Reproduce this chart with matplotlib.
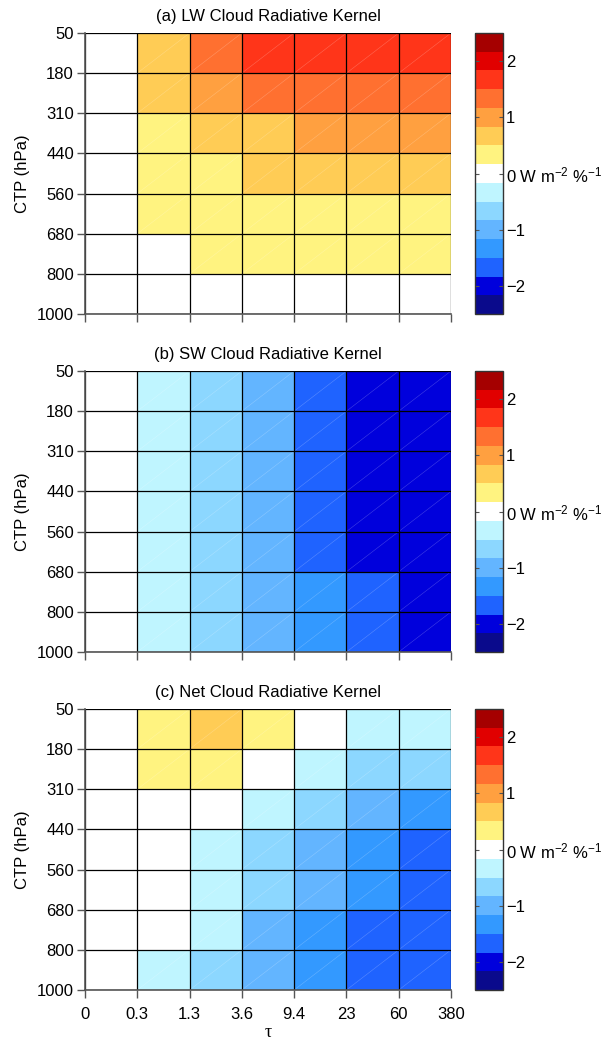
import numpy as np
import matplotlib
matplotlib.use("Agg")
from matplotlib import pyplot as plt
from matplotlib.colors import ListedColormap, BoundaryNorm
from matplotlib.collections import LineCollection

plt.rcParams['font.family'] = ['Liberation Sans', 'DejaVu Sans']
plt.rcParams['mathtext.fontset'] = 'custom'
plt.rcParams['mathtext.rm'] = 'Liberation Sans'
plt.rcParams['mathtext.it'] = 'Liberation Sans:italic'
plt.rcParams['mathtext.sf'] = 'Liberation Sans'

tau_labels = ["0", "0.3", "1.3", "3.6", "9.4", "23", "60", "380"]
ctp_labels = ["50", "180", "310", "440", "560", "680", "800", "1000"]

# rows: CTP 50 -> 1000 hPa, columns: tau 0 -> 380
lw_kernel = [
    [0.00, 0.72, 1.30, 1.68, 1.72, 1.75, 1.74],
    [0.00, 0.62, 0.98, 1.33, 1.38, 1.36, 1.35],
    [0.00, 0.38, 0.62, 0.78, 0.95, 1.02, 1.05],
    [0.00, 0.30, 0.45, 0.62, 0.70, 0.72, 0.73],
    [0.00, 0.22, 0.30, 0.38, 0.42, 0.44, 0.45],
    [0.00, 0.10, 0.22, 0.28, 0.31, 0.33, 0.34],
    [0.00, 0.02, 0.06, 0.09, 0.11, 0.12, 0.13],
]
sw_kernel = [
    [0.00, -0.35, -0.68, -1.00, -1.62, -1.95, -2.05],
    [0.00, -0.36, -0.70, -1.02, -1.64, -1.97, -2.06],
    [0.00, -0.37, -0.71, -1.03, -1.66, -1.98, -2.08],
    [0.00, -0.38, -0.72, -1.04, -1.67, -2.00, -2.09],
    [0.00, -0.38, -0.72, -1.03, -1.62, -1.92, -2.04],
    [0.00, -0.37, -0.70, -0.98, -1.40, -1.70, -1.95],
    [0.00, -0.36, -0.68, -0.95, -1.30, -1.60, -1.88],
]
net_kernel = [
    [0.00, 0.30, 0.60, 0.25, 0.05, -0.25, -0.30],
    [0.00, 0.26, 0.28, 0.02, -0.30, -0.60, -0.70],
    [0.00, 0.01, -0.08, -0.40, -0.75, -1.00, -1.28],
    [0.00, -0.08, -0.35, -0.72, -1.05, -1.30, -1.55],
    [0.00, -0.10, -0.40, -0.75, -1.02, -1.32, -1.58],
    [0.00, -0.12, -0.42, -0.90, -1.25, -1.52, -1.60],
    [0.00, -0.25, -0.55, -0.90, -1.25, -1.53, -1.58],
]
titles = ["(a) LW Cloud Radiative Kernel",
          "(b) SW Cloud Radiative Kernel",
          "(c) Net Cloud Radiative Kernel"]

level_colors = ["#0a0a8c", "#0000dc", "#1f63ff", "#3399ff", "#63b5ff",
                "#8cd7ff", "#bff5ff", "#ffffff", "#fff380", "#ffcc55",
                "#ffa040", "#ff7030", "#ff3519", "#e10000", "#a50000"]
bounds = np.linspace(-2.5, 2.5, 16)
cmap = ListedColormap(level_colors)
norm = BoundaryNorm(bounds, cmap.N)

W, H = 609, 1040
fig = plt.figure(figsize=(W / 100, H / 100), dpi=100)

panel_tops = [33, 371, 709]
panel_h = 281
axis_gray = "#555555"
fs = 12

for k, data in enumerate([lw_kernel, sw_kernel, net_kernel]):
    z = np.array(data)
    ny, nx = z.shape
    top = panel_tops[k]
    ax = fig.add_axes([85 / W, 1 - (top + panel_h) / H, 366 / W, panel_h / H])
    cax = fig.add_axes([475 / W, 1 - (top + panel_h) / H, 28 / W, panel_h / H])

    mesh = ax.pcolormesh(np.arange(nx + 1), np.arange(ny + 1), z,
                         cmap=cmap, norm=norm, antialiased=False)
    # faint diagonals like the rendered triangles in the original
    segs = [[(j, i + 1), (j + 1, i)] for i in range(ny) for j in range(nx)]
    ax.add_collection(LineCollection(segs, colors="white", linewidths=0.4, alpha=0.25))

    ax.hlines(np.arange(ny + 1), 0, nx, colors="black", linewidth=0.9, zorder=3)
    ax.vlines(np.arange(nx + 1), 0, ny, colors="black", linewidth=0.9, zorder=3)

    ax.set_xlim(0, nx)
    ax.set_ylim(ny, 0)
    ax.set_yticks(np.arange(ny + 1))
    ax.set_yticklabels(ctp_labels)
    ax.set_xticks(np.arange(nx + 1))
    if k == 2:
        ax.set_xticklabels(tau_labels)
        ax.set_xlabel("τ", fontsize=13, family=['Liberation Serif'], labelpad=2)
    else:
        ax.set_xticklabels([])
    ax.set_ylabel("CTP (hPa)", fontsize=fs, labelpad=5)
    ax.set_title(titles[k], fontsize=fs, pad=9)
    ax.tick_params(direction="out", length=6, width=1, color=axis_gray,
                   labelsize=fs, pad=2)
    ax.tick_params(axis="x", pad=6)
    for side in ["top", "right"]:
        ax.spines[side].set_visible(False)
    for side in ["left", "bottom"]:
        ax.spines[side].set_color(axis_gray)
        ax.spines[side].set_linewidth(1.2)
        ax.spines[side].set_zorder(4)

    cb = fig.colorbar(mesh, cax=cax, boundaries=bounds, ticks=[-2, -1, 0, 1, 2])
    cb.ax.minorticks_off()
    cb.ax.set_yticklabels(["−2", "−1", r"0 W m$^{-2}$ %$^{-1}$", "1", "2"])
    cb.ax.tick_params(direction="in", left=True, right=True, length=3,
                      width=0.8, color=axis_gray, labelsize=fs, pad=2)
    cb.outline.set_edgecolor("#333333")
    cb.outline.set_linewidth(1.0)

fig.savefig("out.png", dpi=100)
